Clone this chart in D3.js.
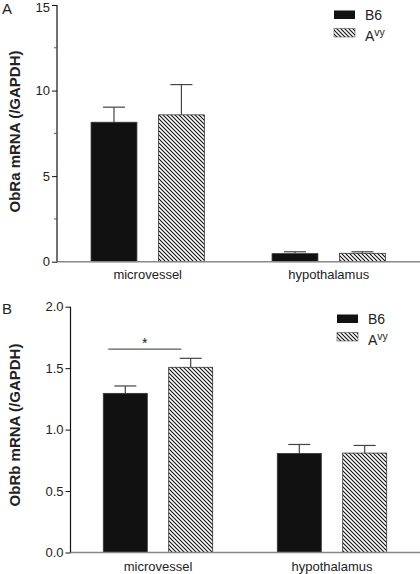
<!DOCTYPE html>
<html><head><meta charset="utf-8">
<script src="https://cdn.jsdelivr.net/npm/d3@7"></script>
<style>body{margin:0;background:#fff}svg{display:block}text{font-family:"Liberation Sans",Arial,sans-serif}</style>
</head><body>
<svg id="c" width="420" height="574"></svg>
<script>
const categories = ["microvessel", "hypothalamus"];
const series = ["B6", "Avy"];
// Panel A: ObRa
const obraMean = { B6: [8.15, 0.47], Avy: [8.58, 0.49] };
const obraErr  = { B6: [0.88, 0.11], Avy: [1.77, 0.09] };
const obraTicks = [0, 5, 10, 15];
const obraMinor = [2.5, 7.5, 12.5];
// Panel B: ObRb
const obrbMean = { B6: [1.295, 0.806], Avy: [1.507, 0.809] };
const obrbErr  = { B6: [0.06, 0.073], Avy: [0.073, 0.062] };
const obrbTicks = [0, 0.5, 1.0, 1.5, 2.0];

const svg = d3.select("#c");
const defs = svg.append("defs");
const pat = defs.append("pattern").attr("id","hatch").attr("patternUnits","userSpaceOnUse")
  .attr("width",4).attr("height",4);
pat.append("rect").attr("width",4).attr("height",4).attr("fill","#fff");
pat.append("path").attr("d","M-1,-1L5,5M-1,3L1,5M3,-1L5,1").attr("stroke","#111").attr("stroke-width",1.1);

function panel(o){
  const g = svg.append("g");
  const y = d3.scaleLinear().domain([0, o.max]).range([o.y0, o.yTop]);
  const xg = d3.scaleBand().domain(categories).range(o.xr).padding(0);
  const xs = d3.scaleBand().domain(series).range([0, o.gw]).paddingInner(o.pin);
  series.forEach(s => {
    categories.forEach((c, i) => {
      const x = xg(c) + xg.bandwidth()/2 - o.gw/2 + xs(s);
      const v = o.mean[s][i], e = o.err[s][i];
      g.append("rect").attr("x", x).attr("y", y(v)).attr("width", xs.bandwidth())
        .attr("height", y(0) - y(v))
        .attr("fill", s === "B6" ? "#111" : "url(#hatch)")
        .attr("stroke", "#333").attr("stroke-width", 0.8);
      const cx = x + xs.bandwidth()/2;
      g.append("line").attr("x1", cx).attr("x2", cx).attr("y1", y(v)).attr("y2", y(v + e))
        .attr("stroke", "#444").attr("stroke-width", 1.2);
      g.append("line").attr("x1", cx - 11).attr("x2", cx + 11).attr("y1", y(v + e)).attr("y2", y(v + e))
        .attr("stroke", "#444").attr("stroke-width", 1.2);
    });
  });
  g.append("line").attr("x1", o.ax).attr("x2", 420).attr("y1", y(0)).attr("y2", y(0))
    .attr("stroke", "#888").attr("stroke-width", 1.5);
  const ya = g.append("g").attr("transform", `translate(${o.ax},0)`)
    .call(d3.axisLeft(y).tickValues(o.ticks).tickFormat(o.fmt).tickSize(5).tickPadding(2));
  ya.select(".domain").attr("stroke", "#111").attr("stroke-width", 1.2).attr("d", `M-0,${o.yTop}V${o.y0}`);
  ya.selectAll(".tick line").attr("stroke", "#111");
  ya.selectAll(".tick text").attr("font-size", 13).attr("fill", "#222")
    .style("font-family", '"Liberation Sans",Arial,sans-serif')
    .attr("y", d => (y(d) < 10 ? 2 : 0));
  if (o.minor) {
    g.selectAll(".mn").data(o.minor).enter().append("line")
      .attr("x1", o.ax - 3).attr("x2", o.ax).attr("y1", d => y(d)).attr("y2", d => y(d))
      .attr("stroke", "#555").attr("stroke-width", 1);
  }
  categories.forEach(c => {
    g.append("text").attr("x", xg(c) + xg.bandwidth()/2).attr("y", y(0) + o.catDy)
      .attr("text-anchor", "middle").attr("font-size", 13).attr("fill", "#222").text(c);
  });
  g.append("text").attr("transform", `translate(${o.titleX},${o.titleY}) rotate(-90)`)
    .attr("text-anchor", "middle").attr("font-size", 15).attr("font-weight", "bold")
    .attr("fill", "#222").text(o.title);
  g.append("text").attr("x", 2).attr("y", o.letterY).attr("font-size", 15).attr("fill", "#222").text(o.letter);
  const L = o.leg;
  g.append("rect").attr("x", L.x).attr("y", L.y).attr("width", 21).attr("height", 8.5).attr("fill", "#111");
  g.append("rect").attr("x", L.x).attr("y", L.y + 18).attr("width", 21).attr("height", 8.5)
    .attr("fill", "url(#hatch)").attr("stroke", "#555").attr("stroke-width", 0.6);
  g.append("text").attr("x", L.x + 31).attr("y", L.y + 9.5).attr("font-size", 14).attr("fill", "#222").text("B6");
  const t = g.append("text").attr("x", L.x + 31).attr("y", L.y + 30).attr("font-size", 14).attr("fill", "#222");
  t.append("tspan").text("A");
  t.append("tspan").attr("dy", -5).attr("font-size", 10.5).text("vy");
  return {y, xg, xs, g};
}

panel({ max: 15, y0: 261.7, yTop: 5, xr: [57.2, 419.2], gw: 113.3, pin: 0.32, ax: 57,
  mean: obraMean, err: obraErr, ticks: obraTicks, minor: obraMinor, fmt: d3.format("d"),
  catDy: 17, title: "ObRa mRNA (/GAPDH)", titleX: 19.5, titleY: 131.5, letter: "A", letterY: 14,
  leg: { x: 334, y: 10.5 } });

const pb = panel({ max: 2, y0: 552.5, yTop: 306.7, xr: [71, 419], gw: 109.4, pin: 0.327, ax: 70.5,
  mean: obrbMean, err: obrbErr, ticks: obrbTicks, minor: null, fmt: d3.format(".1f"),
  catDy: 18.5, title: "ObRb mRNA (/GAPDH)", titleX: 19.5, titleY: 425, letter: "B", letterY: 314,
  leg: { x: 337, y: 314.5 } });

const sigY = 1.655;
const x1 = pb.xg("microvessel") + pb.xg.bandwidth()/2 - 109.4/2 + 5;
const x2 = x1 + 73;
pb.g.append("line").attr("x1", x1).attr("x2", x2).attr("y1", pb.y(sigY)).attr("y2", pb.y(sigY))
  .attr("stroke", "#333").attr("stroke-width", 1);
pb.g.append("text").attr("x", (x1 + x2)/2).attr("y", pb.y(sigY) - 1).attr("text-anchor", "middle")
  .attr("font-size", 14).attr("fill", "#222").text("*");
</script>
</body></html>
